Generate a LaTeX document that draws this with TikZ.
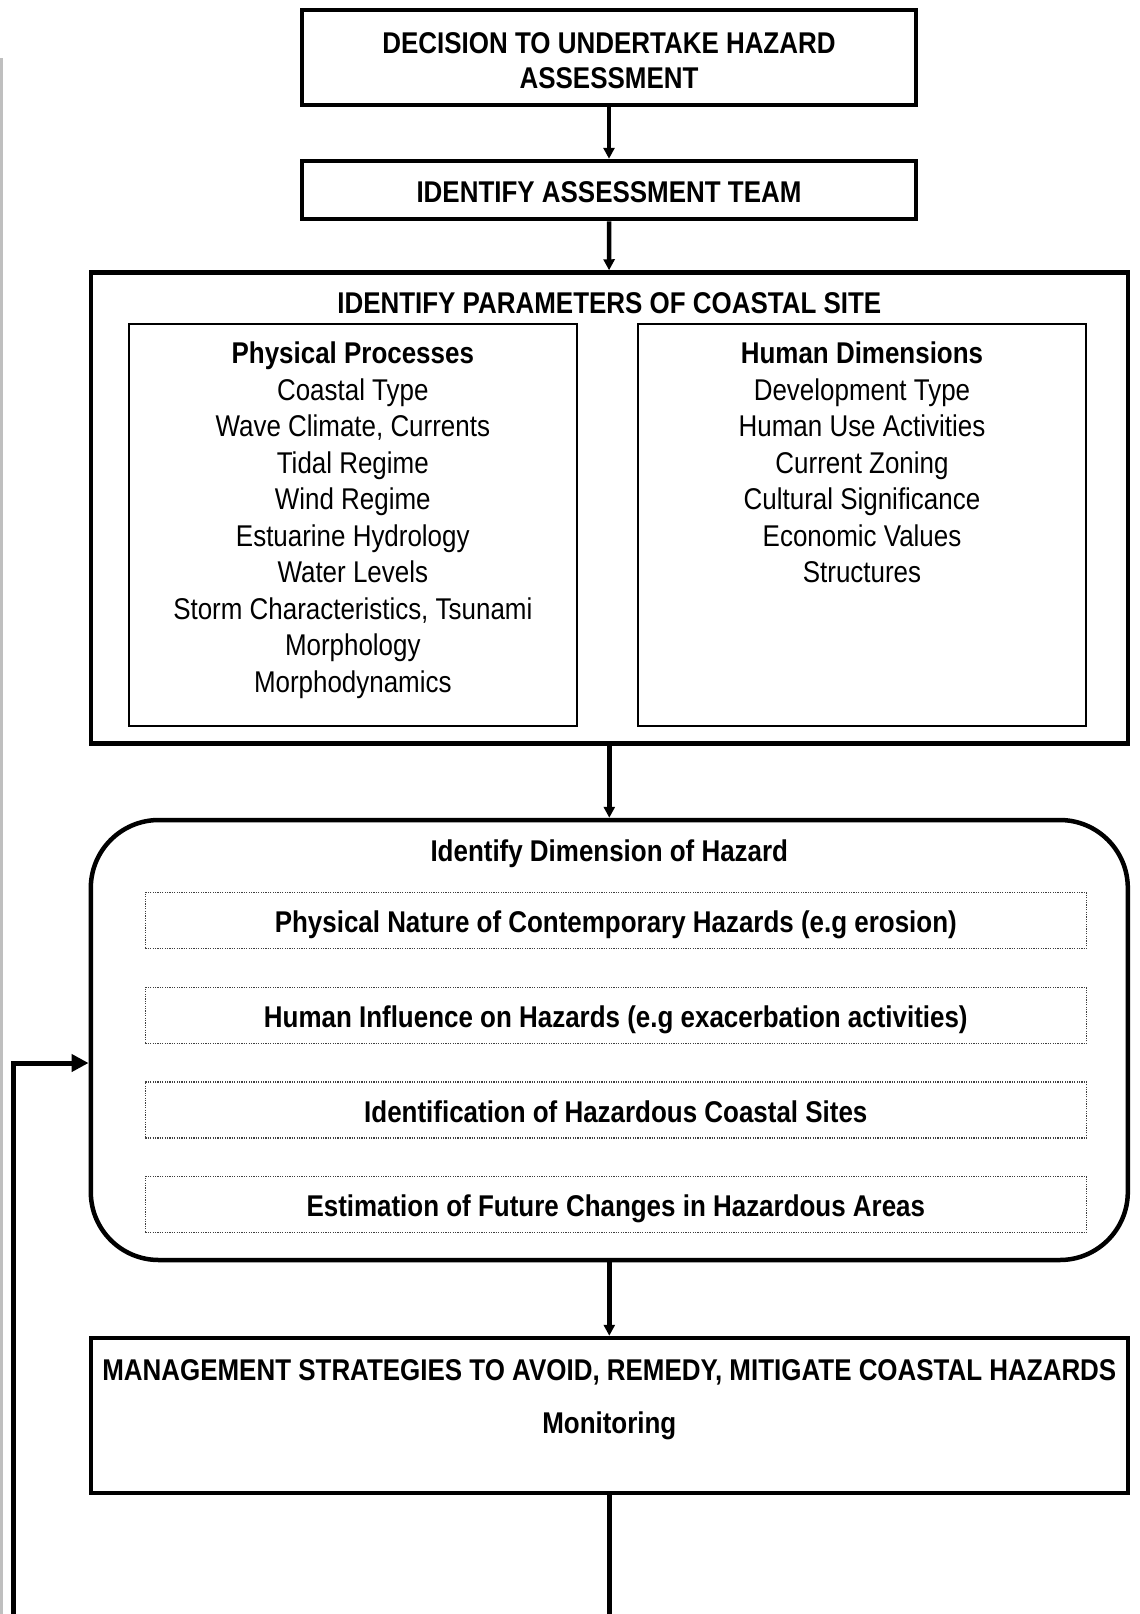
\documentclass[tikz,border=0pt]{standalone}
\usepackage{fontspec}
\setmainfont{Liberation Sans}[FakeStretch=0.865]
\usepackage{tikz}
\usetikzlibrary{calc,positioning,shapes}
\usetikzlibrary{arrows.meta}
\tikzset{>={Triangle[width=11pt,length=11pt]}}

\begin{document}
\begin{tikzpicture}[x=1pt,y=-1pt]
      %%%%%%%%%%%%%%%%%%%%%%%%%%%%%%%%%%%%%%%%%%%%%%%%%%
      %% coastal hazard assessment
      %%%%%%%%%%%%%%%%%%%%%%%%%%%%%%%%%%%%%%%%%%%%%%%%%%
      \tikzstyle{hnode} = [line width=4.5pt, draw, rectangle, inner sep = 2pt, align=center, font=\fontsize{30}{35}\selectfont\bfseries]
      \tikzstyle{pnode} = [line width=1.5pt, draw, rectangle, inner sep = 0pt]
      \tikzstyle{dnode} = [line width=1.2pt, draw=black!75, dash pattern=on 1.2pt off 1.2pt, rectangle, minimum width=941pt, minimum height=56pt, text height=30pt, text depth=6pt, font=\fontsize{30}{36}\selectfont\bfseries]
      \tikzstyle{lnode} = [align=center, inner sep = 0pt, font=\fontsize{30}{36.5}\selectfont]
      \tikzstyle{tnode} = [inner sep = 0pt, font=\fontsize{30}{36}\selectfont\bfseries]
      \tikzstyle{arr} = [line width=4.5pt, ->]
      \useasboundingbox (0,0) rectangle (1140,1614);
      \draw[black!25, line width=3pt] (1.5,58) -- (1.5,1614);
      % top boxes
      \node[hnode, minimum width=614pt, minimum height=95pt] (decide) at (609,57.5) {};
      \node[tnode, align=center, font=\fontsize{30}{35}\selectfont\bfseries] (decidetext) at (609,61) {DECISION TO UNDERTAKE HAZARD\\ASSESSMENT};
      \node[hnode, minimum width=614pt, minimum height=58pt, text height=30pt, text depth=6pt] (team) at (609,190) {IDENTIFY ASSESSMENT TEAM};
      % parameters of the site
      \node[hnode, minimum width=1037pt, minimum height=471pt] (params) at (609.3,508) {};
      \node[tnode] (paramstitle) at (609.3,303) {IDENTIFY PARAMETERS OF COASTAL SITE};
      \node[pnode, minimum width=448pt, minimum height=402pt] (physbox) at (352.8,525) {};
      \node[pnode, minimum width=448pt, minimum height=402pt] (humbox) at (862,525) {};
      \node[lnode, anchor=north] (physlist) at (352.8,342) {\textbf{Physical Processes}\\Coastal Type\\Wave Climate, Currents\\Tidal Regime\\Wind Regime\\Estuarine Hydrology\\Water Levels\\Storm Characteristics, Tsunami\\Morphology\\Morphodynamics};
      \node[lnode, anchor=north] (humlist) at (862,342) {\textbf{Human Dimensions}\\Development Type\\Human Use Activities\\Current Zoning\\Cultural Significance\\Economic Values\\Structures};
      % dimension of hazard
      \node[hnode, rounded corners=68pt, minimum width=1037pt, minimum height=440pt] (hazard) at (609.3,1040) {};
      \node[tnode] (hazardtitle) at (609.3,854) {Identify Dimension of Hazard};
      \node[dnode] (d1) at (615.8,920.5) {Physical Nature of Contemporary Hazards (e.g erosion)};
      \node[dnode] (d2) at (615.8,1015.5) {Human Influence on Hazards (e.g exacerbation activities)};
      \node[dnode] (d3) at (615.8,1110) {Identification of Hazardous Coastal Sites};
      \node[dnode] (d4) at (615.8,1204.5) {Estimation of Future Changes in Hazardous Areas};
      % management
      \node[hnode, minimum width=1037pt, minimum height=155pt] (mgmt) at (609.3,1415.5) {};
      \node[tnode] (mgmttitle) at (609.3,1372) {MANAGEMENT STRATEGIES TO AVOID, REMEDY, MITIGATE COASTAL HAZARDS};
      \node[tnode] (monitor) at (609.3,1426) {Monitoring};
      % connectors
      \coordinate (mgmtend) at (609.3,1614);
      \coordinate (loopend) at (13.4,1614);
      \coordinate (loopturn) at (13.4,1063);
      \draw[arr] (decide) -- (team);
      \draw[arr] (team) -- (params);
      \draw[arr] (params) -- (hazard);
      \draw[arr] (hazard) -- (mgmt);
      \draw[line width=4.5pt] (mgmt) -- (mgmtend);
      \draw[line width=5pt, -{Triangle[width=17pt,length=17pt]}] (loopend) -- (loopturn) -- (loopturn -| hazard.west);
\end{tikzpicture}
\end{document}
